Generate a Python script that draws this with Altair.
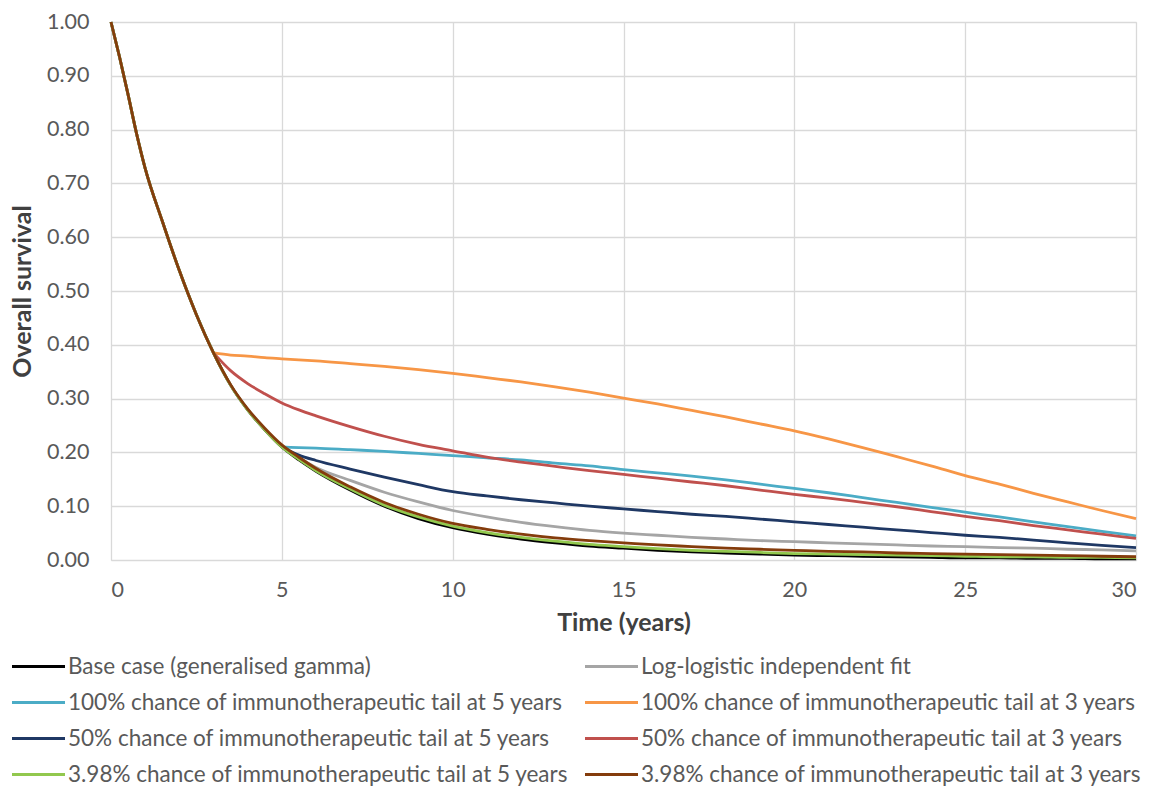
import altair as alt
import pandas as pd

T = [0, 0.25, 0.5, 0.75, 1, 1.5, 2, 2.5, 3, 3.5, 4, 4.5, 5, 5.5, 6, 7, 8, 9, 10,
     11, 12, 13, 14, 15, 16, 17, 18, 19, 20, 21, 22, 23, 24, 25, 26, 27, 28, 29, 30]

base = [1.0, 0.935, 0.865, 0.792, 0.728, 0.630, 0.538, 0.456, 0.385, 0.325, 0.279, 0.242, 0.210, 0.186, 0.165,
        0.130, 0.100, 0.077, 0.060, 0.048, 0.039, 0.032, 0.026, 0.022, 0.018, 0.015, 0.013, 0.011, 0.009,
        0.008, 0.007, 0.006, 0.005, 0.004, 0.004, 0.003, 0.003, 0.002, 0.002]
loglogistic = [1.0, 0.935, 0.865, 0.792, 0.728, 0.630, 0.538, 0.456, 0.385, 0.325, 0.280, 0.243, 0.212, 0.190, 0.172,
               0.148, 0.126, 0.108, 0.092, 0.080, 0.070, 0.062, 0.055, 0.050, 0.046, 0.042, 0.039, 0.036, 0.034,
               0.032, 0.030, 0.028, 0.026, 0.025, 0.023, 0.022, 0.020, 0.019, 0.017]
tail100_5 = [None] * 12 + [0.210, 0.209, 0.208, 0.205, 0.202, 0.198, 0.194, 0.190, 0.186, 0.180, 0.175, 0.168,
                           0.162, 0.156, 0.149, 0.141, 0.133, 0.125, 0.116, 0.107, 0.098, 0.089, 0.080, 0.071,
                           0.062, 0.053, 0.045]
tail100_3 = [None] * 8 + [0.385, 0.381, 0.379, 0.376, 0.374, 0.372, 0.370, 0.365, 0.360, 0.354, 0.347, 0.339,
                          0.331, 0.322, 0.312, 0.301, 0.290, 0.278, 0.266, 0.253, 0.240, 0.225, 0.209, 0.192,
                          0.175, 0.157, 0.141, 0.124, 0.108, 0.092, 0.077]
tail50_5 = [None] * 12 + [0.210, 0.195, 0.185, 0.169, 0.154, 0.140, 0.127, 0.119, 0.112, 0.106, 0.100, 0.095,
                          0.090, 0.085, 0.081, 0.076, 0.071, 0.066, 0.061, 0.056, 0.051, 0.046, 0.042, 0.037,
                          0.032, 0.027, 0.023]
tail50_3 = [None] * 8 + [0.385, 0.352, 0.328, 0.309, 0.292, 0.279, 0.268, 0.248, 0.230, 0.215, 0.203, 0.191,
                         0.182, 0.174, 0.166, 0.159, 0.152, 0.145, 0.138, 0.130, 0.122, 0.115, 0.107, 0.099,
                         0.090, 0.081, 0.073, 0.064, 0.056, 0.048, 0.040]
tail398_5 = [1.0, 0.935, 0.865, 0.792, 0.728, 0.630, 0.538, 0.456, 0.385, 0.325, 0.279, 0.242, 0.210, 0.187, 0.166,
             0.132, 0.102, 0.080, 0.063, 0.051, 0.042, 0.035, 0.029, 0.025, 0.021, 0.018, 0.016, 0.014, 0.012,
             0.011, 0.010, 0.009, 0.008, 0.007, 0.006, 0.006, 0.005, 0.005, 0.004]
tail398_3 = [1.0, 0.935, 0.865, 0.792, 0.728, 0.630, 0.538, 0.456, 0.385, 0.326, 0.281, 0.245, 0.214, 0.191, 0.170,
             0.136, 0.107, 0.085, 0.068, 0.057, 0.048, 0.041, 0.036, 0.032, 0.028, 0.025, 0.022, 0.020, 0.018,
             0.016, 0.015, 0.013, 0.012, 0.011, 0.010, 0.009, 0.008, 0.007, 0.006]

labels = [
    "Base case (generalised gamma)",
    "Log-logistic independent fit",
    "100% chance of immunotherapeutic tail at 5 years",
    "100% chance of immunotherapeutic tail at 3 years",
    "50% chance of immunotherapeutic tail at 5 years",
    "50% chance of immunotherapeutic tail at 3 years",
    "3.98% chance of immunotherapeutic tail at 5 years",
    "3.98% chance of immunotherapeutic tail at 3 years",
]
colors = ["#000000", "#A5A5A5", "#4BACC6", "#F79646", "#1F3864", "#C0504D", "#92C84E", "#843C0C"]
series = [base, loglogistic, tail100_5, tail100_3, tail50_5, tail50_3, tail398_5, tail398_3]

rows = []
for name, vals in zip(labels, series):
    for t, v in zip(T, vals):
        if v is not None:
            rows.append({"t": t, "os": v, "series": name})
df = pd.DataFrame(rows)

FONT = "Lato"

color = alt.Color(
    "series:N",
    scale=alt.Scale(domain=labels, range=colors),
    sort=labels,
    title=None,
    legend=alt.Legend(
        orient="none",
        legendX=-84,
        legendY=633,
        columns=2,
        direction="horizontal",
        symbolType="M-2.65,0H2.65",
        symbolSize=400,
        symbolStrokeWidth=3,
        labelFontSize=22.5,
        labelFont=FONT,
        labelColor="#595959",
        labelLimit=700,
        labelOffset=18,
        rowPadding=13,
        columnPadding=10,
        padding=0,
    ),
)

x = alt.X(
    "t:Q",
    scale=alt.Scale(domain=[0, 30], nice=False),
    axis=alt.Axis(
        values=[0, 5, 10, 15, 20, 25, 30],
        title="Time (years)",
        grid=True,
        gridColor="#D9D9D9",
        gridWidth=1.3,
        domain=False,
        ticks=False,
        tickSize=0,
        labelPadding=19,
        labelFontSize=21.5,
        labelFont=FONT,
        labelColor="#595959",
        titleFont=FONT,
        titleFontSize=25,
        titleFontWeight="bold",
        titleColor="#404040",
        titleY=50,
    ),
)
y = alt.Y(
    "os:Q",
    scale=alt.Scale(domain=[0, 1], nice=False),
    axis=alt.Axis(
        values=[0, 0.1, 0.2, 0.3, 0.4, 0.5, 0.6, 0.7, 0.8, 0.9, 1.0],
        format=".2f",
        title="Overall survival",
        grid=True,
        gridColor="#D9D9D9",
        gridWidth=1.3,
        domain=False,
        ticks=False,
        tickSize=0,
        labelPadding=22,
        labelFontSize=21.5,
        labelFont=FONT,
        labelColor="#595959",
        titleFont=FONT,
        titleFontSize=25,
        titleFontWeight="bold",
        titleColor="#404040",
        titleX=-89,
        titleBaseline="middle",
    ),
)

layers = []
for name in labels:
    layers.append(
        alt.Chart(df)
        .transform_filter(alt.datum.series == name)
        .mark_line(strokeWidth=2.8, interpolate="monotone")
        .encode(x=x, y=y, color=color)
    )

chart = (
    alt.layer(*layers)
    .properties(
        width=1025,
        height=538,
        padding={"left": 111, "top": 22, "right": 21, "bottom": 227},
        autosize=alt.AutoSizeParams(type="none"),
    )
    .configure_view(stroke=None)
    .configure(background="white")
)

chart.save("out.html", embed_options={"renderer": "svg", "actions": False})
